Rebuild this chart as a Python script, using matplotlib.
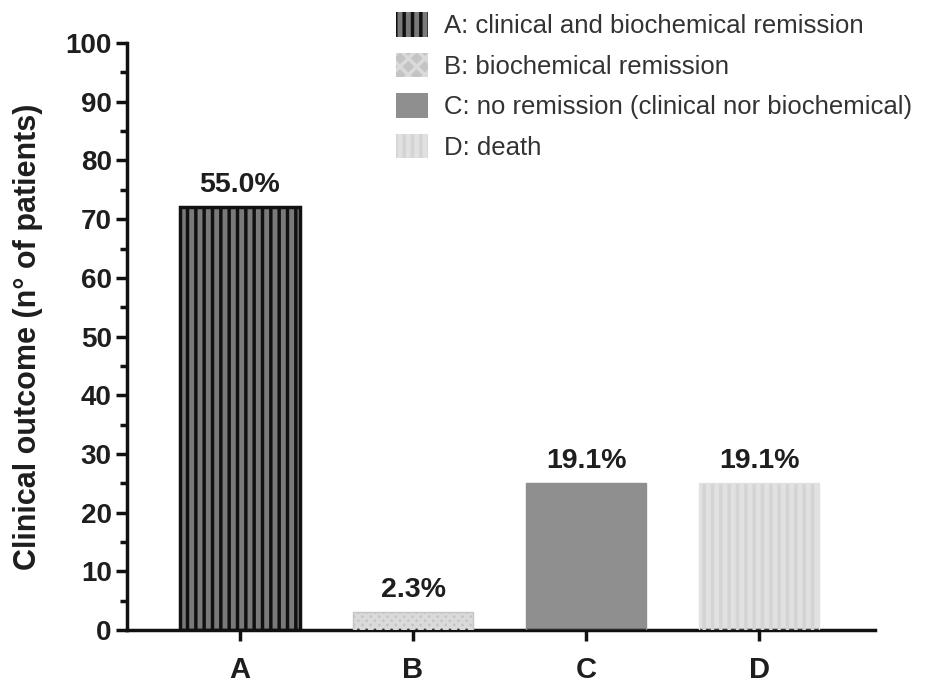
import matplotlib
matplotlib.use("Agg")
import matplotlib.pyplot as plt
from matplotlib.patches import Patch
from matplotlib.ticker import MultipleLocator

plt.rcParams['font.family'] = ['Liberation Sans', 'DejaVu Sans']
plt.rcParams['hatch.linewidth'] = 2.5

categories = ["A", "B", "C", "D"]
values = [72, 3, 25, 25]
pct_labels = ["55.0%", "2.3%", "19.1%", "19.1%"]
legend_labels = ["A: clinical and biochemical remission",
                 "B: biochemical remission",
                 "C: no remission (clinical nor biochemical)",
                 "D: death"]

facecolors = ["#7a7a7a", "#c4c4c4", "#8f8f8f", "#e1e1e1"]
hatchcolors = ["#111111", "#dadada", "#8f8f8f", "#d4d4d4"]
hatches = ["||", "xxxx", "", "||"]
edgecolors = ["#111111", "#c4c4c4", "#8f8f8f", "#e1e1e1"]

fig = plt.figure(figsize=(9.29, 6.84), dpi=100)
ax = fig.add_axes([0.1367, 0.0789, 0.942 - 0.1367, 0.937 - 0.0789])

xs = list(range(len(categories)))
for i, (x, v) in enumerate(zip(xs, values)):
    ax.bar(x, v, width=0.69, color=facecolors[i], edgecolor='none', zorder=2)
    if hatches[i]:
        ax.bar(x, v, width=0.69, color='none', edgecolor=hatchcolors[i],
               hatch=hatches[i], linewidth=0, zorder=3)
    ax.bar(x, v, width=0.69, color='none', edgecolor=edgecolors[i],
           linewidth=2.5 if i == 0 else 1.0, zorder=4)
    ax.annotate(pct_labels[i], (x, v), xytext=(0, 7), textcoords='offset points',
                ha='center', va='bottom', fontsize=20.5, fontweight='bold',
                color='#1e1e1e')

ax.set_xlim(-0.653, 3.67)
ax.set_ylim(0, 100)
ax.yaxis.set_major_locator(MultipleLocator(10))
ax.yaxis.set_minor_locator(MultipleLocator(5))
ax.set_xticks(xs)
ax.set_xticklabels(categories, fontsize=21, fontweight='bold', color='#1e1e1e')
for lab in ax.get_yticklabels():
    lab.set_fontsize(20)
    lab.set_fontweight('bold')
    lab.set_color('#1e1e1e')

ax.spines['top'].set_visible(False)
ax.spines['right'].set_visible(False)
ax.spines['left'].set_linewidth(2.5)
ax.spines['bottom'].set_linewidth(2.5)
ax.spines['left'].set_color('#111111')
ax.spines['bottom'].set_color('#111111')
ax.tick_params(axis='both', which='major', direction='out', length=8, width=2.5,
               color='#111111', pad=3)
ax.tick_params(axis='y', which='minor', direction='out', length=5, width=2.5,
               color='#111111')
ax.tick_params(axis='x', which='major', pad=11)

ax.set_ylabel("Clinical outcome (n° of patients)", fontsize=22, fontweight='bold',
              color='#1e1e1e')
ax.yaxis.set_label_coords(-0.112, 0.5)

handles = []
for i in range(4):
    handles.append(Patch(facecolor=facecolors[i],
                         edgecolor=hatchcolors[i] if hatches[i] else facecolors[i],
                         hatch=hatches[i] if i != 1 else 'xx', linewidth=0))
leg = ax.legend(handles, legend_labels, loc='upper left', bbox_to_anchor=(0.328, 1.092),
                frameon=False, fontsize=18.5, handlelength=1.25, handleheight=1.1,
                labelspacing=0.56, handletextpad=0.65, labelcolor='#333333',
                borderpad=0.4)

fig.savefig("out.png", dpi=100)
